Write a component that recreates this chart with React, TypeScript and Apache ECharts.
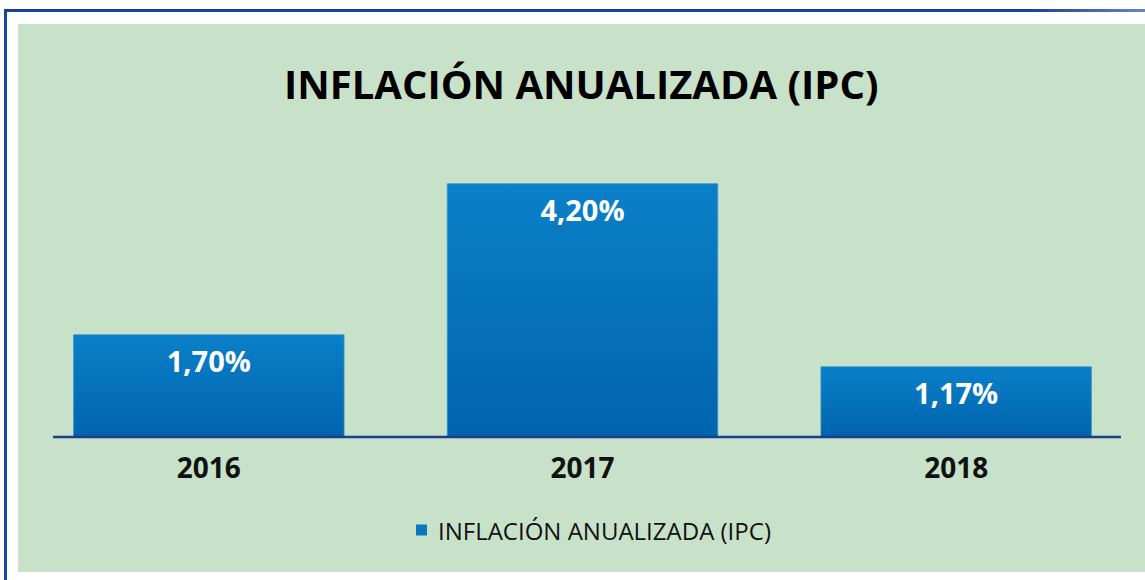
import React, { useEffect, useRef } from "react";
import * as echarts from "echarts";

const categories = ["2016", "2017", "2018"];
const values = [1.7, 4.2, 1.17];
const valueLabels = ["1,70%", "4,20%", "1,17%"];
const seriesName = "INFLACIÓN ANUALIZADA (IPC)";
const titleText = "INFLACIÓN ANUALIZADA (IPC)";

export default function App() {
  const ref = useRef<HTMLDivElement>(null);
  useEffect(() => {
    if (!ref.current) return;
    const chart = echarts.init(ref.current, null, { renderer: "svg" });
    const font = "'Open Sans', 'Noto Sans', sans-serif";
    chart.setOption({
      animation: false,
      backgroundColor: "#ffffff",
      graphic: [
        { type: "rect", z: -10, shape: { x: 18, y: 24, width: 1140, height: 548 }, style: { fill: "#c8e2c9" } },
        { type: "rect", z: -5, shape: { x: 4, y: 9, width: 3, height: 580 }, style: { fill: "#1c4396" } },
        {
          type: "rect",
          z: -5,
          shape: { x: 4, y: 9, width: 1145, height: 3 },
          style: {
            fill: new echarts.graphic.LinearGradient(0, 0, 1, 0, [
              { offset: 0, color: "#1c4396" },
              { offset: 0.9, color: "#1c4396" },
              { offset: 1, color: "#6f86c0" },
            ]),
          },
        },
        { type: "line", z: 10, shape: { x1: 53, y1: 437, x2: 1121, y2: 437 }, style: { stroke: "#1b3f8f", lineWidth: 2.5 } },
      ],
      title: {
        text: titleText,
        left: 279,
        top: 58,
        textStyle: { fontFamily: font, fontWeight: "bold", fontSize: 40, color: "#000000" },
      },
      legend: {
        data: [seriesName],
        left: 411,
        top: 513,
        itemWidth: 11,
        itemHeight: 11,
        icon: "rect",
        itemStyle: { color: "#0a78c0", borderWidth: 0 },
        textStyle: { fontFamily: font, fontSize: 24, color: "#111111", padding: [0, 0, 0, 6] },
      },
      grid: { left: 22, right: 2, top: 135, bottom: 143 },
      xAxis: {
        type: "category",
        data: categories,
        axisLine: { show: false },
        axisTick: { show: false },
        axisLabel: { fontFamily: font, fontWeight: "bold", fontSize: 28, color: "#111111", margin: 16 },
      },
      yAxis: { type: "value", min: 0, max: 5, show: false, splitLine: { show: false } },
      series: [
        {
          name: seriesName,
          type: "bar",
          data: values,
          barWidth: "72.6%",
          itemStyle: {
            color: new echarts.graphic.LinearGradient(0, 0, 0, 1, [
              { offset: 0, color: "#0a80c8" },
              { offset: 1, color: "#0064ad" },
            ]),
            borderColor: "#3b94cc",
            borderWidth: 0.8,
          },
          label: {
            show: true,
            position: "insideTop",
            distance: 12,
            formatter: (p: any) => valueLabels[p.dataIndex],
            fontFamily: font,
            fontWeight: "bold",
            fontSize: 29,
            color: "#ffffff",
          },
        },
      ],
    });
    return () => chart.dispose();
  }, []);
  return <div ref={ref} style={{ position: "absolute", left: 0, top: 0, width: 1145, height: 580 }} />;
}
